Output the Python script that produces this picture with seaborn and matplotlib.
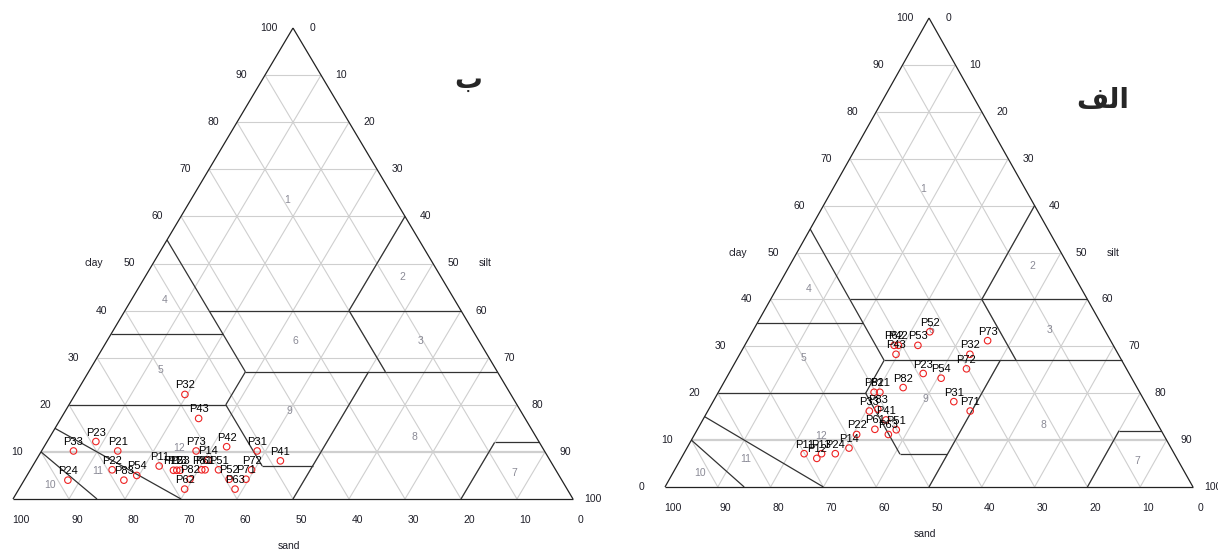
import numpy as np
import pandas as pd
import matplotlib
matplotlib.use("Agg")
import matplotlib.pyplot as plt
import seaborn as sns

sns.set_theme(style="white")
plt.rcParams['font.family'] = ['Liberation Sans', 'DejaVu Sans']

# Panel titles (the second one is "الف", written with its joined letter forms in drawing order)
title_b = "ب"
title_a = "\ufed2\ufedf\u0627"

# Samples of panel "ب" (percent)
names_b = ["P32", "P43", "P23", "P33", "P21", "P73", "P42", "P31", "P41",
           "P22", "P83", "P54", "P24", "P11", "P12", "P13", "P53", "P14",
           "P81", "P61", "P51", "P72", "P82", "P71", "P62", "P63", "P52"]
sand_b = [58.2, 58.3, 79.1, 84.1, 76.2, 62.2, 56.3, 51.3, 48.2,
          79.2, 78.2, 75.4, 88.2, 70.4, 68.3, 67.7, 67.1, 61.0,
          63.2, 62.6, 60.2, 54.3, 66.3, 56.3, 68.3, 59.3, 59.3]
silt_b = [19.6, 24.6, 8.7, 5.7, 13.6, 27.6, 32.6, 38.5, 43.7,
          14.6, 17.8, 19.6, 7.8, 22.6, 25.6, 26.2, 26.8, 30.7,
          30.6, 31.2, 33.6, 39.5, 29.5, 39.5, 29.6, 38.6, 36.5]
clay_b = [22.2, 17.1, 12.2, 10.2, 10.2, 10.2, 11.1, 10.2, 8.1,
          6.2, 4.0, 5.0, 4.0, 7.0, 6.1, 6.1, 6.1, 8.3,
          6.2, 6.2, 6.2, 6.2, 4.2, 4.2, 2.1, 2.1, 4.2]

# Samples of panel "الف" (percent)
names_a = ["P52", "P42", "P62", "P53", "P43", "P73", "P32", "P72", "P23",
           "P54", "P82", "P81", "P21", "P31", "P71", "P33", "P83", "P41",
           "P61", "P63", "P51", "P22", "P14", "P24", "P11", "P12", "P13"]
sand_a = [33.3, 40.7, 41.5, 37.0, 42.1, 23.3, 28.1, 30.3, 39.0,
          36.1, 44.3, 50.3, 49.2, 36.2, 34.1, 53.2, 51.4, 51.0,
          54.1, 52.1, 50.1, 58.1, 61.0, 64.2, 70.1, 68.2, 66.8]
silt_a = [33.6, 29.1, 28.3, 32.8, 29.6, 45.5, 43.6, 44.5, 36.8,
          40.7, 34.5, 29.5, 30.6, 45.6, 49.7, 30.6, 32.0, 34.7,
          33.6, 36.7, 37.7, 30.7, 30.7, 28.7, 22.8, 25.7, 26.1]
clay_a = [33.1, 30.2, 30.2, 30.2, 28.3, 31.2, 28.3, 25.2, 24.2,
          23.2, 21.2, 20.2, 20.2, 18.2, 16.2, 16.2, 16.6, 14.3,
          12.3, 11.2, 12.2, 11.2, 8.3, 7.1, 7.1, 6.1, 7.1]

# USDA texture class numbers and where they are written (silt %, clay %)
class_ids = ["1", "2", "3", "4", "5", "6", "7", "8", "9", "10", "11", "12"]
class_silt = [17.2, 46.0, 56.0, 6.0, 12.6, 33.7, 86.7, 65.0, 40.0, 5.1, 12.2, 24.2]
class_clay = [63.5, 47.1, 33.5, 42.3, 27.4, 33.5, 5.5, 13.2, 18.7, 3.0, 6.0, 10.8]

# USDA class boundaries: segments given as (sand, silt, clay) end points
boundaries = [
    ((45, 15, 40), (20, 40, 40)),
    ((20, 40, 40), (0, 60, 40)),
    ((20, 40, 40), (0, 40, 60)),
    ((45, 0, 55), (45, 15, 40)),
    ((65, 0, 35), (45, 20, 35)),
    ((45, 15, 40), (45, 28, 27)),
    ((20, 40, 40), (20, 53, 27)),
    ((45, 28, 27), (0, 73, 27)),
    ((80, 0, 20), (52, 28, 20)),
    ((52, 28, 20), (45, 28, 27)),
    ((52, 28, 20), (52, 41, 7)),
    ((52, 41, 7), (43, 50, 7)),
    ((50, 50, 0), (23, 50, 27)),
    ((20, 80, 0), (8, 80, 12)),
    ((8, 80, 12), (0, 88, 12)),
    ((85, 15, 0), (90, 0, 10)),
    ((70, 30, 0), (85, 0, 15)),
]

tick_values = list(range(0, 101, 10))

GRID = "#cfcfcf"
TXT = "#1e1e28"
CLASS_COL = "#8a8a96"
TICK_FS = 7.5


def to_xy(silt, clay):
    """Ternary (silt, clay) percentages -> plane coordinates."""
    silt = np.asarray(silt, dtype=float)
    clay = np.asarray(clay, dtype=float)
    return (silt + clay / 2.0) / 100.0, clay / 100.0


def seg(ax, p, q, **kw):
    x0, y0 = to_xy(p[1], p[2])
    x1, y1 = to_xy(q[1], q[2])
    ax.plot([x0, x1], [y0, y1], solid_capstyle="butt", clip_on=False, **kw)


def texture_triangle(ax, names, sand, silt, clay):
    ax.set_xlim(0, 1)
    ax.set_ylim(0, 1)
    ax.axis("off")

    # light 10 % grid in the three directions
    for v in tick_values[1:-1]:
        lw = 1.6 if v == 10 else 0.8
        seg(ax, (100 - v, 0, v), (0, 100 - v, v), color=GRID, lw=lw, zorder=1)
        seg(ax, (0, v, 100 - v), (100 - v, v, 0), color=GRID, lw=0.8, zorder=1)
        seg(ax, (v, 0, 100 - v), (v, 100 - v, 0), color=GRID, lw=0.8, zorder=1)

    # class boundaries and outline
    for p, q in boundaries:
        seg(ax, p, q, color="#333333", lw=0.9, zorder=2)
    for p, q in [((100, 0, 0), (0, 100, 0)), ((0, 100, 0), (0, 0, 100)),
                 ((0, 0, 100), (100, 0, 0))]:
        seg(ax, p, q, color="#222222", lw=0.9, zorder=3)

    # class numbers
    cx, cy = to_xy(class_silt, class_clay)
    for lab, x, y in zip(class_ids, cx, cy):
        ax.text(x, y, lab, color=CLASS_COL, fontsize=7.5, ha="center",
                va="center", zorder=2)

    # axis tick labels
    for v in tick_values:
        x, y = to_xy(0, v)
        ax.annotate(str(v), (x, y), xytext=(-24, 0), textcoords="offset pixels",
                    ha="center", va="center", fontsize=TICK_FS, color=TXT,
                    annotation_clip=False)
        x, y = to_xy(v, 100 - v)
        ax.annotate(str(v), (x, y), xytext=(20, 0), textcoords="offset pixels",
                    ha="center", va="center", fontsize=TICK_FS, color=TXT,
                    annotation_clip=False)
        x, y = to_xy(100 - v, 0)
        ax.annotate(str(v), (x, y), xytext=(8, -21), textcoords="offset pixels",
                    ha="center", va="center", fontsize=TICK_FS, color=TXT,
                    annotation_clip=False)

    # axis titles
    x, y = to_xy(0, 50)
    ax.annotate("clay", (x, y), xytext=(-59, 0), textcoords="offset pixels",
                ha="center", va="center", fontsize=TICK_FS, color=TXT,
                annotation_clip=False)
    x, y = to_xy(50, 50)
    ax.annotate("silt", (x, y), xytext=(52, 0), textcoords="offset pixels",
                ha="center", va="center", fontsize=TICK_FS, color=TXT,
                annotation_clip=False)
    x, y = to_xy(50, 0)
    ax.annotate("sand", (x, y), xytext=(-4, -47), textcoords="offset pixels",
                ha="center", va="center", fontsize=TICK_FS, color=TXT,
                annotation_clip=False)

    # samples
    px, py = to_xy(silt, clay)
    df = pd.DataFrame({"name": names, "sand": sand, "silt": silt, "clay": clay,
                       "x": px, "y": py})
    sns.scatterplot(data=df, x="x", y="y", ax=ax, marker="o", s=22,
                    facecolor="none", edgecolor="#ee2222", linewidth=0.8,
                    zorder=5, clip_on=False, legend=False)
    for _, r in df.iterrows():
        ax.annotate(r["name"], (r["x"], r["y"]), xytext=(0, 9),
                    textcoords="offset pixels", ha="center", va="center",
                    fontsize=8, color="black", zorder=6, annotation_clip=False)
    ax.set_xlabel("")
    ax.set_ylabel("")


W, H = 1218, 551
fig = plt.figure(figsize=(W / 100, H / 100), dpi=100)
fig.patch.set_facecolor("white")

ax_b = fig.add_axes([13 / W, (H - 499) / H, 560 / W, 471 / H])
texture_triangle(ax_b, names_b, sand_b, silt_b, clay_b)

ax_a = fig.add_axes([665 / W, (H - 487) / H, 528 / W, 469 / H])
texture_triangle(ax_a, names_a, sand_a, silt_a, clay_a)

fig.text(468 / W, 1 - 80 / H, title_b, family=["DejaVu Sans"], weight="bold",
         fontsize=20, ha="center", va="center")
fig.text(1103 / W, 1 - 100 / H, title_a, family=["DejaVu Sans"], weight="bold",
         fontsize=20, ha="center", va="center")

fig.savefig("out.png", dpi=100, facecolor="white")
